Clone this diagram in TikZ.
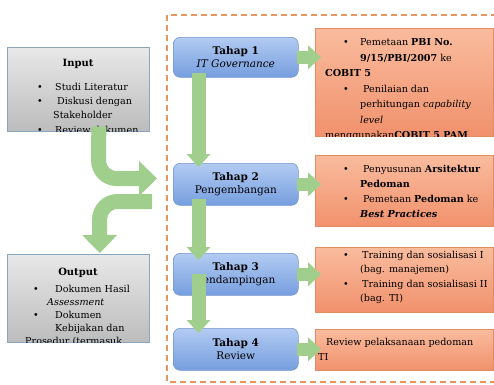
\documentclass[tikz,border=0pt]{standalone}
\usepackage{fontspec}
\setmainfont{DejaVu Serif}
\usetikzlibrary{arrows.meta}

\definecolor{framecol}{RGB}{230,150,95}
\definecolor{graytop}{RGB}{232,232,232}
\definecolor{graybot}{RGB}{188,188,188}
\definecolor{grayline}{RGB}{140,165,190}
\definecolor{bluetop}{RGB}{178,203,242}
\definecolor{bluebot}{RGB}{118,158,222}
\definecolor{blueline}{RGB}{115,150,205}
\definecolor{orangetop}{RGB}{249,188,158}
\definecolor{orangebot}{RGB}{241,145,108}
\definecolor{orangeline}{RGB}{226,140,100}
\definecolor{arrowgreen}{RGB}{160,206,140}

% bullet line: bullet offset, gap to text, text
\newcommand\bline[3]{\hspace*{#1pt}\makebox[#2pt][l]{\textbullet}#3}
% plain line: offset, text
\newcommand\pline[2]{\hspace*{#1pt}#2}

\tikzset{
  inout/.style={draw=grayline, line width=0.6pt, top color=graytop, bottom color=graybot,
    minimum width=142pt, anchor=north west, inner sep=0pt},
  stage/.style={draw=blueline, line width=0.6pt, top color=bluetop, bottom color=bluebot,
    rounded corners=7pt, minimum width=125pt, anchor=north west, align=center,
    inner sep=0pt, font=\fontsize{10.5}{13.5}\selectfont},
  task/.style={draw=orangeline, line width=0.5pt, top color=orangetop, bottom color=orangebot,
    minimum width=178pt, anchor=north west, inner sep=0pt},
  txt/.style={anchor=base west, inner sep=0pt, font=\fontsize{9.6}{13}\selectfont},
  title/.style={anchor=base, inner sep=0pt, font=\bfseries\fontsize{10}{12}\selectfont},
  flow/.style={draw=arrowgreen, line width=14pt,
    -{Triangle[length=13pt 0 0, width=24pt 0 0, line width=0pt]}},
  bigflow/.style={draw=arrowgreen, line width=15pt, rounded corners=18pt,
    -{Triangle[length=18pt 0 0, width=35pt 0 0, line width=0pt]}},
  frame/.style={draw=framecol, line width=1.6pt, dash pattern=on 6pt off 4pt}
}

\begin{document}
\begin{tikzpicture}[x=1pt,y=-1pt]
\useasboundingbox (0,0) rectangle (494,384);

% dashed frame around the stages
\draw[frame] (167,15) rectangle (520,382);

% input and output
\node[inout, minimum height=84pt] (inp) at (7,47) {};
\node[inout, minimum height=88pt] (out) at (7,254) {};

% stages
\node[stage, minimum height=40pt] (t1) at (173,37) {\textbf{Tahap 1}\\\textit{IT Governance}};
\node[stage, minimum height=42pt] (t2) at (173,163) {\textbf{Tahap 2}\\Pengembangan};
\node[stage, minimum height=42pt] (t3) at (173,253) {\textbf{Tahap 3}\\Pendampingan};
\node[stage, minimum height=42pt] (t4) at (173,328) {\textbf{Tahap 4}\\Review};

% activities
\node[task, minimum height=108pt] (b1) at (315,28) {};
\node[task, minimum height=71pt] (b2) at (315,155) {};
\node[task, minimum height=65pt] (b3) at (315,247) {};
\node[task, minimum height=41pt] (b4) at (315,329) {};

% input text
\node[title] (inptitle) at (78,66.5) {Input};
\begin{scope}
  \clip (inp.south west) rectangle (inp.north east);
  \node[txt] (inptxt) at (7,90.5) {\parbox[t]{300pt}{\baselineskip=14.2pt
    \bline{30}{18}{Studi Literatur}\\
    \bline{30}{20}{Diskusi dengan}\\
    \pline{46}{Stakeholder}\\
    \bline{30}{18}{Review dokumen}}};
\end{scope}

% output text
\node[title] (outtitle) at (78,275) {Output};
\begin{scope}
  \clip (out.south west) rectangle (out.north east);
  \node[txt] (outtxt) at (7,292.5) {\parbox[t]{300pt}{\baselineskip=12.9pt
    \bline{26}{22}{Dokumen Hasil}\\
    \pline{40}{\textit{Assessment}}\\
    \bline{26}{22}{Dokumen}\\
    \pline{48}{Kebijakan dan}\\
    \pline{18}{Prosedur (termasuk}}};
\end{scope}

% activity texts
\begin{scope}
  \clip (b1.south west) rectangle (b1.north east);
  \node[txt] (b1txt) at (315,45.5) {\parbox[t]{300pt}{\baselineskip=15.5pt
    \bline{28}{17}{Pemetaan \textbf{PBI No.}}\\
    \pline{45}{\textbf{9/15/PBI/2007} ke}\\
    \pline{10}{\textbf{COBIT 5}}\\
    \bline{28}{20}{Penilaian dan}\\
    \pline{45}{perhitungan \textit{capability}}\\
    \pline{45}{\textit{level}}\\
    \pline{10}{menggunakan\textbf{COBIT 5 PAM}}}};
\end{scope}

\node[txt] (b2txt) at (315,172.5) {\parbox[t]{300pt}{\baselineskip=15pt
  \bline{28}{20}{Penyusunan \textbf{Arsitektur}}\\
  \pline{45}{\textbf{Pedoman}}\\
  \bline{28}{20}{Pemetaan \textbf{Pedoman} ke}\\
  \pline{45}{\textbf{\textit{Best Practices}}}}};

\node[txt] (b3txt) at (315,258.5) {\parbox[t]{300pt}{\baselineskip=14.3pt
  \bline{28}{19}{Training dan sosialisasi I}\\
  \pline{45}{(bag. manajemen)}\\
  \bline{28}{19}{Training dan sosialisasi II}\\
  \pline{45}{(bag. TI)}}};

\node[txt] (b4txt) at (315,345.5) {\parbox[t]{300pt}{\baselineskip=15pt
  \pline{11}{Review pelaksanaan pedoman}\\
  \pline{3}{TI}}};

% flow between stages
\draw[flow] ([xshift=25.5pt,yshift=5pt]t1.south west) -- ([xshift=25.5pt,yshift=-4pt]t2.north west);
\draw[flow] ([xshift=25.5pt,yshift=7pt]t2.south west) -- ([xshift=25.5pt,yshift=-7pt]t3.north west);
\draw[flow] ([xshift=25.5pt,yshift=22pt]t3.south west) -- ([xshift=25.5pt,yshift=-5pt]t4.north west);

% stage to activity
\path (t1.east -| b1.west) coordinate (h1);
\path (t2.east -| b2.west) coordinate (h2);
\path (t3.east -| b3.west) coordinate (h3);
\path (t4.east -| b4.west) coordinate (h4);
\draw[flow, line width=13pt] ([xshift=-2pt]t1.east) -- ([xshift=6pt]h1);
\draw[flow, line width=13pt] ([xshift=-2pt]t2.east) -- ([xshift=6pt]h2);
\draw[flow, line width=13pt] ([xshift=-2pt]t3.east) -- ([xshift=6pt]h3);
\draw[flow, line width=13pt] ([xshift=-2pt]t4.east) -- ([xshift=6pt]h4);

% input into the stages, stages into output
\coordinate (inbend) at (98.5,178.5);
\coordinate (intip) at (157,178.5);
\draw[bigflow] ([xshift=20.5pt,yshift=5pt]inp.south) -- (inbend) -- (intip);
\coordinate (outstart) at (152,201.5);
\coordinate (outbend) at (99.5,201.5);
\draw[bigflow] (outstart) -- (outbend) -- ([xshift=21.5pt,yshift=1pt]out.north);
\end{tikzpicture}
\end{document}
